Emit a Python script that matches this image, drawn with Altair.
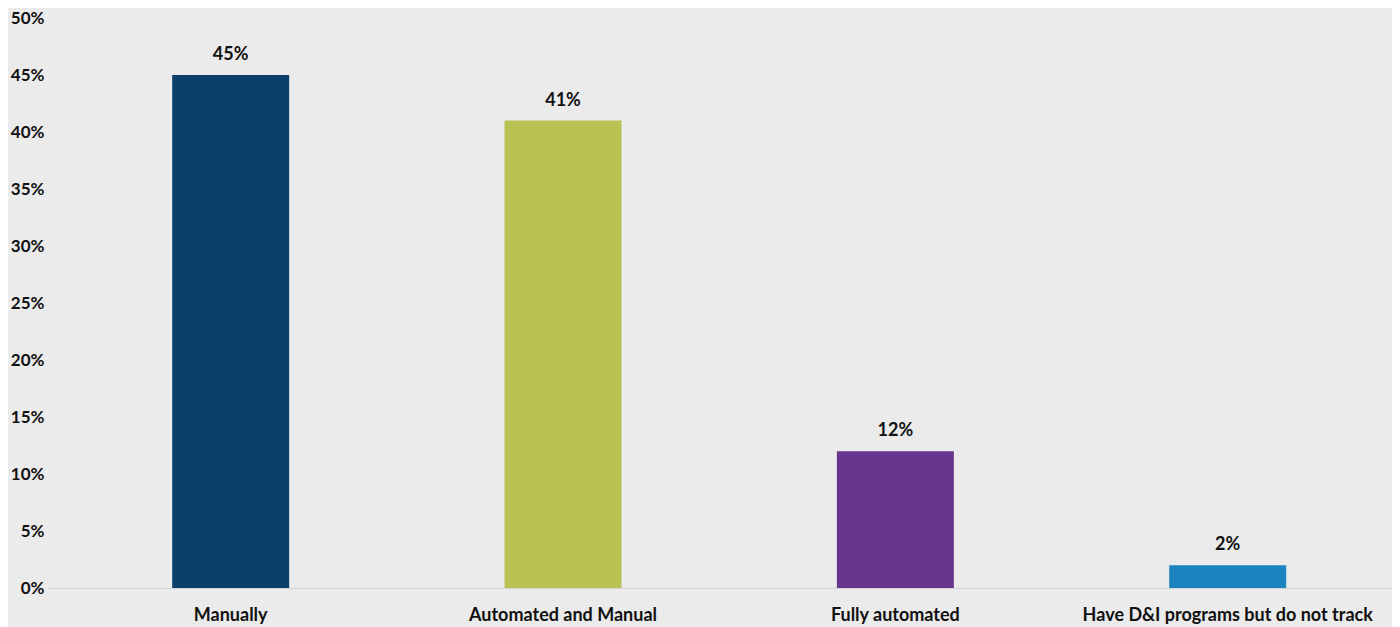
import altair as alt
import pandas as pd

categories = ["Manually", "Automated and Manual", "Fully automated", "Have D&I programs but do not track"]
values = [45, 41, 12, 2]
colors = ["#0D3F6B", "#B7C252", "#68368F", "#1B83C0"]

df = pd.DataFrame({"cat": categories, "val": [v / 100 for v in values], "lbl": [f"{v}%" for v in values]})

FONT = "Lato"

x = alt.X("cat:N", sort=categories, title=None,
          scale=alt.Scale(paddingInner=0.648, paddingOuter=0.346, align=0.54),
          axis=alt.Axis(labelAngle=0, labelFont=FONT, labelFontSize=18, labelFontWeight="bold",
                        labelColor="#111111", ticks=False, domainColor="#D4D4D4", domainWidth=1,
                        labelPadding=18, labelLimit=0))
y = alt.Y("val:Q", title=None,
          scale=alt.Scale(domain=[0, 0.5], nice=False),
          axis=alt.Axis(format=".0%", values=[i / 100 for i in range(0, 51, 5)], grid=False,
                        domain=False, ticks=False, labelFont=FONT, labelFontSize=17,
                        labelFontWeight="bold", labelColor="#111111", labelPadding=4))

bars = alt.Chart(df).mark_bar().encode(
    x=x, y=y,
    color=alt.Color("cat:N", sort=categories, scale=alt.Scale(domain=categories, range=colors), legend=None),
)
text = alt.Chart(df).mark_text(baseline="bottom", dy=-11, font=FONT, fontSize=18, fontWeight="bold",
                               color="#111111").encode(x=x, y=y, text="lbl:N")

chart = (bars + text).properties(
    width=1344, height=570,
    background="#EBEBEB",
    padding={"left": 40, "top": 10, "right": 0, "bottom": 42},
    autosize=alt.AutoSizeParams(type="none"),
).configure_view(stroke=None, fill="#EBEBEB")

chart.save("out.html", embed_options={"renderer": "svg", "actions": False})
